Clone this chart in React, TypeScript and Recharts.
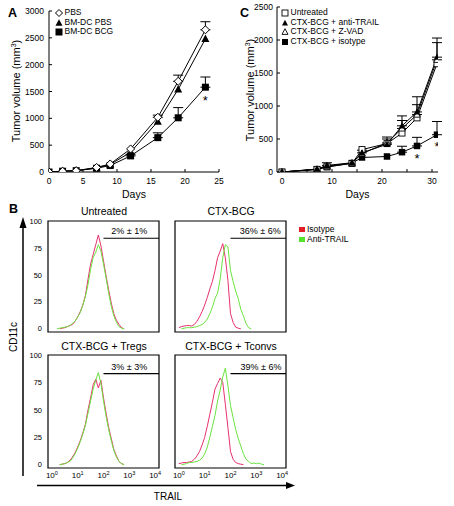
import React from "react";
import {
  ComposedChart, Line, XAxis, YAxis, ErrorBar, Legend, Label,
  ReferenceArea, ReferenceLine, ReferenceDot,
} from "recharts";

const FONT = "Arial, 'Liberation Sans', Helvetica, sans-serif";
const INK = "#000";
const RED = "#e8316f";
const GREEN = "#6be33f";

// ---- A: tumour volume after BM-DC transfer
const daysA = [0, 2, 4, 7, 9, 12, 16, 19, 23];
const pbsA = [0, 15, 25, 85, 150, 430, 1020, 1690, 2650];
const pbsErrA = [null, null, null, null, null, null, 40, 115, 150];
const dcPbsA = [0, 15, 25, 75, 140, 370, 940, 1540, 2480];
const dcBcgA = [0, 15, 25, 70, 120, 300, 640, 1010, 1580];
const dcBcgErrA = [null, null, null, null, null, 30, 90, 190, 190];
const starA = [null, null, null, null, null, null, null, null, 1370];
const namesA = ["PBS", "BM-DC PBS", "BM-DC BCG"];

// ---- C: tumour volume, CTX-BCG with TRAIL blockade
const daysC = [0, 7, 9, 14, 16, 21, 24, 27, 31];
const untreatedC = [0, 40, 80, 130, 340, 430, 590, 820, 1640];
const antiTrailC = [0, 45, 100, 140, 290, 420, 700, 910, 1740];
const antiTrailErrC = [null, null, 40, null, 40, 110, 150, 230, 290];
const zvadC = [0, 40, 90, 135, 280, 440, 660, 870, 1700];
const zvadErrC = [null, null, null, null, null, 60, 120, 150, 260];
const isotypeC = [0, 40, 75, 135, 220, 235, 300, 395, 565];
const isotypeErrC = [null, null, null, null, null, null, 90, 130, 200];
const starC = [null, null, null, null, null, null, null, 250, 430];
const namesC = ["Untreated", "CTX-BCG + anti-TRAIL", "CTX-BCG + Z-VAD", "CTX-BCG + isotype"];

// ---- B: CD11c+ TRAIL histograms (x = log10 fluorescence)
const LOG_X = [
  0, 0.1, 0.2, 0.3, 0.4, 0.5, 0.6, 0.7, 0.8, 0.9,
  1, 1.1, 1.2, 1.3, 1.4, 1.5, 1.6, 1.7, 1.8, 1.9,
  2, 2.1, 2.2, 2.3, 2.4, 2.5, 2.6, 2.7, 2.8, 2.9,
  3, 3.1, 3.2, 3.3, 3.4, 3.5, 3.6, 3.7, 3.8, 3.9, 4,
];
const N = null;
const untreatedIso = [
  N, N, N, 0, 0.5, 1, 2, 3, 4, 7,
  11, 16, 22, 31, 46, 60, 69, 78, 87, 77,
  63, 49, 36, 24, 14, 8, 4, 1, 0, N,
  N, N, N, N, N, N, N, N, N, N, N,
];
const untreatedAnti = [
  N, N, 0, 0.5, 1, 1.5, 2, 3, 5, 7,
  11, 15, 22, 30, 41, 55, 66, 71, 78, 72,
  60, 47, 33, 21, 12, 6, 2, 0.5, 0, N,
  N, N, N, N, N, N, N, N, N, N, N,
];
const ctxIso = [
  1, 2, 2.5, 3, 3, 2.5, 4, 7, 11, 16,
  22, 29, 37, 44, 54, 66, 72, 79, 66, 45,
  14, 6, 1.5, 0.5, 0, N, N, N, N, N,
  N, N, N, N, N, N, N, N, N, N, N,
];
const ctxAnti = [
  N, 0, 0.5, 1, 1, 1, 1.5, 2, 3, 4,
  6, 9, 14, 20, 28, 33, 46, 66, 78, 76,
  54, 44, 35, 28, 18, 12, 5, 1, 0, N,
  N, N, N, N, N, N, N, N, N, N, N,
];
const tregIso = [
  N, N, N, 0, 0.5, 1, 2, 4, 7, 11,
  16, 22, 29, 37, 50, 61, 73, 78, 70, 77,
  61, 47, 34, 24, 14, 8, 3, 1, 0, N,
  N, N, N, N, N, N, N, N, N, N, N,
];
const tregAnti = [
  N, N, N, 0, 0.5, 1, 2, 3, 6, 10,
  15, 21, 28, 36, 47, 58, 69, 77, 84, 74,
  58, 44, 32, 22, 13, 7, 3, 1, 0, N,
  N, N, N, N, N, N, N, N, N, N, N,
];
const tconvIso = [
  1, 1.5, 2, 2, 2.5, 3, 5, 8, 12, 18,
  25, 35, 46, 57, 69, 74, 79, 75, 55, 34,
  12, 5, 2, 1, 0.5, 0, N, N, N, N,
  N, N, N, N, N, N, N, N, N, N, N,
];
const tconvAnti = [
  N, 0, 0.5, 1, 2, 2, 2.5, 3, 4, 6,
  10, 16, 25, 35, 45, 58, 68, 80, 88, 72,
  54, 43, 32, 24, 17, 10, 5, 3, 1, 1.5,
  1, 1.5, 0.5, 0, N, N, N, N, N, N, N,
];
const histKeys = ["Isotype", "Anti-TRAIL"];
const histKeyColors = ["#e21d25", "#55e32e"];

type Kind = "square" | "squareOpen" | "triangle" | "triangleOpen" | "diamond";

function Mark({ kind, cx, cy, s }: { kind: Kind; cx: number; cy: number; s: number }) {
  const h = s / 2;
  if (kind === "square" || kind === "squareOpen") {
    const open = kind === "squareOpen";
    return <rect x={cx - h} y={cy - h} width={s} height={s} fill={open ? "#fff" : INK} stroke={INK} strokeWidth={open ? 0.9 : 0} />;
  }
  if (kind === "diamond") {
    return <polygon points={`${cx},${cy - h} ${cx + h},${cy} ${cx},${cy + h} ${cx - h},${cy}`} fill="#fff" stroke={INK} strokeWidth={1} />;
  }
  const open = kind === "triangleOpen";
  return (
    <polygon
      points={`${cx},${cy - h * 1.1} ${cx + h},${cy + h * 0.8} ${cx - h},${cy + h * 0.8}`}
      fill={open ? "#fff" : INK} stroke={INK} strokeWidth={open ? 0.9 : 0}
    />
  );
}

const dotOf = (kind: Kind, s: number) => (p: any) =>
  p.cx == null || p.cy == null || p.value == null
    ? <g key={p.index} />
    : <Mark key={p.index} kind={kind} cx={p.cx} cy={p.cy} s={s} />;

const starDot = (p: any) =>
  p.cx == null || p.cy == null || p.value == null
    ? <g key={p.index} />
    : <text key={p.index} x={p.cx} y={p.cy + 7} textAnchor="middle" fontSize={13} fill={INK}>*</text>;

const up = (v: number | null) => (v == null ? null : [0, v]);

function KeyBox({ names, kinds, s }: { names: string[]; kinds: Kind[]; s: number }) {
  return (
    <div style={{ fontSize: 8.5, lineHeight: "9.6px", color: INK, fontFamily: FONT }}>
      {names.map((n, i) => (
        <div key={n} style={{ display: "flex", alignItems: "center", height: 9.6, whiteSpace: "nowrap" }}>
          <svg width={8} height={8} style={{ marginRight: 1.5, flex: "none" }}>
            <Mark kind={kinds[i]} cx={4} cy={4} s={s} />
          </svg>
          <span>{n}</span>
        </div>
      ))}
    </div>
  );
}

function ColorKey() {
  return (
    <div style={{ fontSize: 8.5, lineHeight: "9.7px", color: INK, fontFamily: FONT }}>
      {histKeys.map((k, i) => (
        <div key={k} style={{ display: "flex", alignItems: "center", height: 9.7, whiteSpace: "nowrap" }}>
          <span style={{ width: 6, height: 5, background: histKeyColors[i], marginRight: 2, display: "inline-block" }} />
          {k}
        </div>
      ))}
    </div>
  );
}

const tickFont = { fontSize: 8.5, fill: INK };

function GrowthA() {
  const data = daysA.map((day, i) => ({
    day, pbs: pbsA[i], pbsErr: up(pbsErrA[i]), dcPbs: dcPbsA[i],
    dcBcg: dcBcgA[i], dcBcgErr: up(dcBcgErrA[i]), star: starA[i],
  }));
  return (
    <ComposedChart width={230} height={205} data={data} margin={{ top: 11, right: 11, bottom: 0, left: 0 }}>
      <XAxis dataKey="day" type="number" domain={[0, 25]} ticks={[0, 5, 10, 15, 20, 25]} stroke={INK}
        tickSize={-3} tickMargin={9} tick={tickFont} height={33} allowDataOverflow>
        <Label value="Days" position="insideBottom" offset={7} fontSize={10.5} fill={INK} />
      </XAxis>
      <YAxis type="number" domain={[0, 3000]} ticks={[0, 500, 1000, 1500, 2000, 2500, 3000]} stroke={INK}
        tickSize={-3} tickMargin={8} tick={tickFont} width={49} allowDataOverflow />
      <Line dataKey="dcBcg" stroke={INK} strokeWidth={1} dot={dotOf("square", 7)} isAnimationActive={false}>
        <ErrorBar dataKey="dcBcgErr" direction="y" width={5} stroke={INK} strokeWidth={1} />
      </Line>
      <Line dataKey="dcPbs" stroke={INK} strokeWidth={1} dot={dotOf("triangle", 8)} isAnimationActive={false} />
      <Line dataKey="pbs" stroke={INK} strokeWidth={1} dot={dotOf("diamond", 8)} isAnimationActive={false}>
        <ErrorBar dataKey="pbsErr" direction="y" width={5} stroke={INK} strokeWidth={1} />
      </Line>
      <Line dataKey="star" stroke="none" dot={starDot} isAnimationActive={false} />
      <Legend layout="vertical" align="center" verticalAlign="middle"
        wrapperStyle={{ left: 55, top: 8.2, width: 120, height: "auto" }}
        content={() => <KeyBox names={namesA} kinds={["diamond", "triangle", "square"]} s={7} />} />
    </ComposedChart>
  );
}

function GrowthC() {
  const data = daysC.map((day, i) => ({
    day, untreated: untreatedC[i], anti: antiTrailC[i], antiErr: up(antiTrailErrC[i]),
    zvad: zvadC[i], zvadErr: up(zvadErrC[i]), iso: isotypeC[i], isoErr: up(isotypeErrC[i]), star: starC[i],
  }));
  return (
    <ComposedChart width={230} height={205} data={data} margin={{ top: 7, right: 16, bottom: 0, left: 0 }}>
      <XAxis dataKey="day" type="number" domain={[-1, 31.2]} ticks={[0, 5, 10, 15, 20, 25, 30]} stroke={INK}
        tickFormatter={(v: number) => (v % 10 === 0 ? String(v) : "")}
        tickSize={-3} tickMargin={9} tick={tickFont} height={33} allowDataOverflow>
        <Label value="Days" position="insideBottom" offset={7} fontSize={10.5} fill={INK} />
      </XAxis>
      <YAxis type="number" domain={[0, 2500]} ticks={[0, 500, 1000, 1500, 2000, 2500]} stroke={INK}
        tickSize={-3} tickMargin={7} tick={tickFont} width={53} allowDataOverflow />
      <Line dataKey="iso" stroke={INK} strokeWidth={1} dot={dotOf("square", 6.5)} isAnimationActive={false}>
        <ErrorBar dataKey="isoErr" direction="y" width={5} stroke={INK} strokeWidth={1} />
      </Line>
      <Line dataKey="untreated" stroke={INK} strokeWidth={1} dot={dotOf("squareOpen", 6)} isAnimationActive={false} />
      <Line dataKey="zvad" stroke={INK} strokeWidth={1} dot={dotOf("triangleOpen", 6.5)} isAnimationActive={false}>
        <ErrorBar dataKey="zvadErr" direction="y" width={5} stroke={INK} strokeWidth={1} />
      </Line>
      <Line dataKey="anti" stroke={INK} strokeWidth={1} dot={dotOf("triangle", 6.5)} isAnimationActive={false}>
        <ErrorBar dataKey="antiErr" direction="y" width={5} stroke={INK} strokeWidth={1} />
      </Line>
      <Line dataKey="star" stroke="none" dot={starDot} isAnimationActive={false} />
      <Legend layout="vertical" align="center" verticalAlign="middle"
        wrapperStyle={{ left: 57, top: 8.2, width: 150, height: "auto" }}
        content={() => <KeyBox names={namesC} kinds={["squareOpen", "triangle", "triangleOpen", "square"]} s={6} />} />
    </ComposedChart>
  );
}

function LogTick(props: any) {
  const { x, y, payload } = props;
  return (
    <text x={x} y={y + 2} textAnchor="middle" fontSize={8} fill={INK}>
      10<tspan dy={-3.5} fontSize={5.5}>{payload.value}</tspan>
    </text>
  );
}

type HistoProps = {
  iso: (number | null)[]; anti: (number | null)[]; gateY: number; pct: string; pctX: number;
  showY: boolean; showX: boolean; withKey?: boolean;
};

function Histo({ iso, anti, gateY, pct, pctX, showY, showX, withKey }: HistoProps) {
  const data = LOG_X.map((x, i) => ({ x, iso: iso[i], anti: anti[i] }));
  return (
    <ComposedChart width={165} height={showX ? 135 : 125} data={data} margin={{ top: 6, right: 6, bottom: 0, left: 0 }}>
      <XAxis dataKey="x" type="number" domain={[-0.15, 4.15]} ticks={[0, 1, 2, 3, 4]} axisLine={false} tickLine={false}
        tick={showX ? <LogTick /> : false} height={showX ? 16 : 8} allowDataOverflow />
      <YAxis type="number" domain={[-3, 100]} ticks={[0, 25, 50, 75, 100]} axisLine={false} tickLine={false}
        tick={showY ? { fontSize: 7.5, fill: INK } : false} width={48} tickMargin={0} allowDataOverflow />
      <ReferenceArea x1={-0.15} x2={4.15} y1={-3} y2={100} fill="none" stroke={INK} strokeWidth={1.2} ifOverflow="visible" />
      <Line dataKey="iso" stroke={RED} strokeWidth={1} dot={false} isAnimationActive={false} />
      <Line dataKey="anti" stroke={GREEN} strokeWidth={1} dot={false} isAnimationActive={false} />
      <ReferenceLine segment={[{ x: 2, y: gateY }, { x: 4.15, y: gateY }]} stroke={INK} strokeWidth={1.2} ifOverflow="visible" />
      <ReferenceDot x={pctX} y={gateY + 6.5} r={0} ifOverflow="visible" label={{ value: pct, fontSize: 9, fill: INK }} />
      {withKey && (
        <Legend layout="vertical" align="center" verticalAlign="middle"
          wrapperStyle={{ left: 172, top: 10, width: 80, height: "auto" }} content={() => <ColorKey />} />
      )}
    </ComposedChart>
  );
}

function Decor() {
  const title = { fontSize: 10.5, textAnchor: "middle" as const, fill: INK };
  return (
    <svg width={454} height={506} style={{ position: "absolute", left: 0, top: 0, pointerEvents: "none" }}>
      <g fontFamily={FONT} fill={INK}>
        <text x={8} y={17} fontSize={12.5} fontWeight="bold">A</text>
        <text x={240} y={17} fontSize={12.5} fontWeight="bold">C</text>
        <text x={9} y={212.5} fontSize={12.5} fontWeight="bold">B</text>
        <text transform="translate(20 91) rotate(-90)" textAnchor="middle" fontSize={11}>
          Tumor volume (mm<tspan dy={-4} fontSize={7}>3</tspan><tspan dy={4}>)</tspan>
        </text>
        <text transform="translate(254 90) rotate(-90)" textAnchor="middle" fontSize={11}>
          Tumor volume (mm<tspan dy={-4} fontSize={7}>3</tspan><tspan dy={4}>)</tspan>
        </text>
        <text x={104} y={215} {...title}>Untreated</text>
        <text x={231} y={215} {...title}>CTX-BCG</text>
        <text x={104} y={349.5} {...title}>CTX-BCG + Tregs</text>
        <text x={231} y={349.5} {...title}>CTX-BCG + Tconvs</text>
        <text transform="translate(17 337) rotate(-90)" textAnchor="middle" fontSize={10}>CD11c</text>
        <text x={168} y={500} textAnchor="middle" fontSize={10}>TRAIL</text>
      </g>
      <line x1={23} y1={227} x2={23} y2={476} stroke={INK} strokeWidth={1.5} />
      <polygon points="23,217 19.5,228 26.5,228" fill={INK} />
      <line x1={37} y1={485.5} x2={287} y2={485.5} stroke={INK} strokeWidth={1.5} />
      <polygon points="295,485.5 286,482 286,489" fill={INK} />
    </svg>
  );
}

export default function App() {
  const at = (left: number, top: number) => ({ position: "absolute" as const, left, top });
  return (
    <div style={{ position: "absolute", left: 0, top: 0, width: 454, height: 506, background: "#fff", fontFamily: FONT, overflow: "hidden" }}>
      <div style={at(0, 0)}><GrowthA /></div>
      <div style={at(224, 0)}><GrowthC /></div>
      <div style={at(0, 215)}>
        <Histo iso={untreatedIso} anti={untreatedAnti} gateY={84} pct="2% ± 1%" pctX={3.0} showY showX={false} />
      </div>
      <div style={at(127, 215)}>
        <Histo iso={ctxIso} anti={ctxAnti} gateY={84} pct="36% ± 6%" pctX={3.15} showY={false} showX={false} withKey />
      </div>
      <div style={at(0, 349)}>
        <Histo iso={tregIso} anti={tregAnti} gateY={83} pct="3% ± 3%" pctX={3.0} showY showX />
      </div>
      <div style={at(127, 349)}>
        <Histo iso={tconvIso} anti={tconvAnti} gateY={83} pct="39% ± 6%" pctX={3.18} showY={false} showX />
      </div>
      <Decor />
    </div>
  );
}
